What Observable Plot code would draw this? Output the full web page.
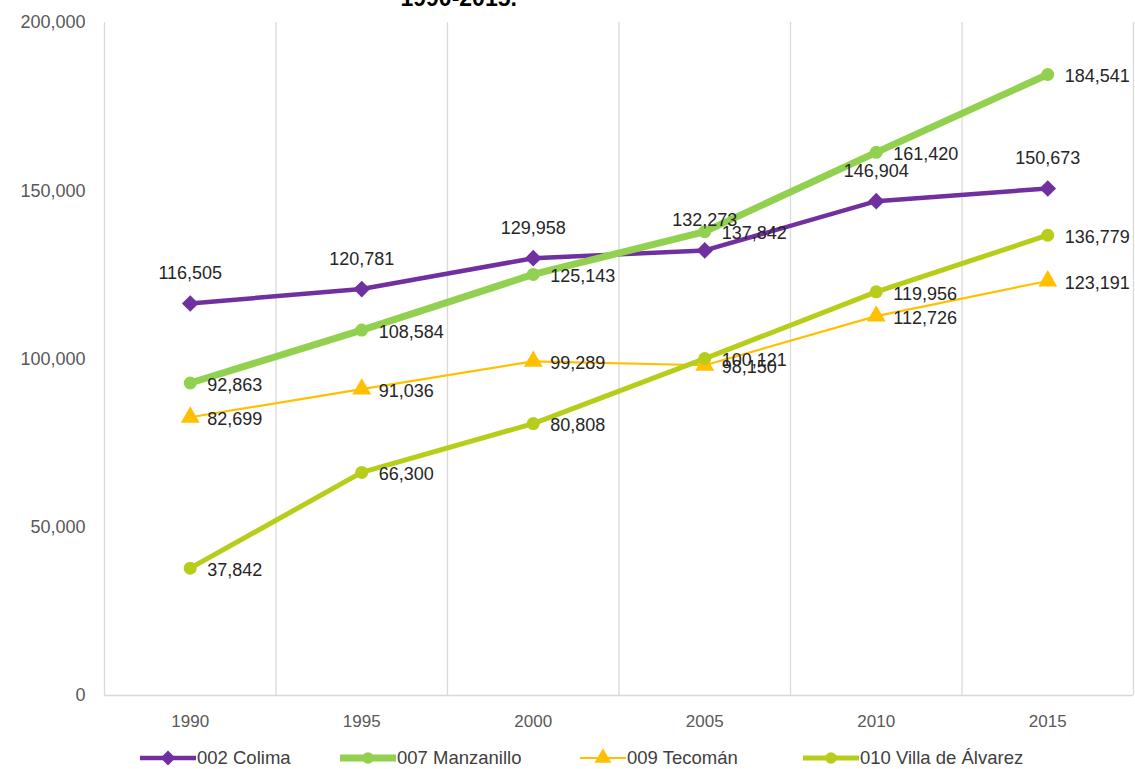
<!DOCTYPE html>
<html>
<head>
<meta charset="utf-8">
<script src="https://cdn.jsdelivr.net/npm/d3@7"></script>
<script src="https://cdn.jsdelivr.net/npm/@observablehq/plot@0.6"></script>
<style>
  html, body { margin: 0; padding: 0; background: #fff; overflow: hidden; }
  body { width: 1135px; height: 769px; position: relative; font-family: "Liberation Sans", Arial, sans-serif; }
  #legend { position: absolute; top: 745px; left: 0; width: 1135px; height: 26px; }
  .item { position: absolute; display: flex; align-items: center; font-size: 18.5px; color: #404040; }
  .item svg { display: block; margin-right: 1px; }
</style>
</head>
<body>
<div id="chart"></div>
<div id="legend"></div>
<script>
const years = [1990, 1995, 2000, 2005, 2010, 2015];
const seriesNames = ["002 Colima", "007 Manzanillo", "009 Tecomán", "010 Villa de Álvarez"];
const colima     = [116505, 120781, 129958, 132273, 146904, 150673];
const manzanillo = [92863, 108584, 125143, 137842, 161420, 184541];
const tecoman    = [82699, 91036, 99289, 98150, 112726, 123191];
const villa      = [37842, 66300, 80808, 100121, 119956, 136779];
const yTicks = [0, 50000, 100000, 150000, 200000];
const titleText = "1990-2015.";

const colors = ["#7030A0", "#92D050", "#FFC000", "#B8CC1A"];
const widths = [4.5, 7, 2.2, 5];
const symbols = ["diamond2", "circle", "triangle", "circle"];
const radii = [7.5, 6.5, 7, 6.5];
const labelPos = ["top", "right", "right", "right"];

const allValues = [colima, manzanillo, tecoman, villa];
const data = [];
allValues.forEach((vals, s) => {
  vals.forEach((v, i) => data.push({series: seriesNames[s], s, year: years[i], value: v}));
});

const half = (years[1] - years[0]) / 2;
const bounds = [years[0] - half, ...years.map(y => y + half)];
const fmt = d3.format(",");

const marks = [
  Plot.ruleX(bounds, {stroke: "#d9d9d9", strokeWidth: 1.3}),
  Plot.ruleY([0], {stroke: "#d9d9d9", strokeWidth: 1.3}),
  Plot.axisY({ticks: yTicks, tickFormat: fmt, tickSize: 0, tickPadding: 19, fontSize: 18, color: "#595959", label: null}),
  Plot.axisX({ticks: years, tickFormat: d => String(d), tickSize: 0, tickPadding: 19, fontSize: 17, color: "#595959", label: null}),
];
seriesNames.forEach((name, s) => {
  const d = data.filter(r => r.s === s);
  marks.push(Plot.line(d, {x: "year", y: "value", stroke: colors[s], strokeWidth: widths[s]}));
  marks.push(Plot.dot(d, {x: "year", y: "value", fill: colors[s], stroke: "none", symbol: symbols[s], r: radii[s]}));
});
seriesNames.forEach((name, s) => {
  const d = data.filter(r => r.s === s);
  if (labelPos[s] === "top") {
    marks.push(Plot.text(d, {x: "year", y: "value", text: r => fmt(r.value), dy: -30, fontSize: 18, fill: "#262626", textAnchor: "middle"}));
  } else {
    marks.push(Plot.text(d, {x: "year", y: "value", text: r => fmt(r.value), dx: 17, dy: 2, fontSize: 18, fill: "#262626", textAnchor: "start"}));
  }
});
marks.push(Plot.text([titleText], {frameAnchor: "top-left", dx: 296, dy: -17, fontSize: 23, fontWeight: "bold", fill: "#000", textAnchor: "start", lineAnchor: "bottom"}));

const chart = Plot.plot({
  width: 1135,
  height: 740,
  marginLeft: 104,
  marginRight: 2,
  marginTop: 22,
  marginBottom: 45,
  style: {fontFamily: "'Liberation Sans', Arial, sans-serif", background: "#fff", overflow: "hidden"},
  x: {type: "linear", domain: [bounds[0], bounds[bounds.length - 1]], axis: null},
  y: {domain: [0, 200000], axis: null},
  marks
});
document.getElementById("chart").appendChild(chart);

// Legend
const legend = document.getElementById("legend");
const legendX = [140, 340, 580, 803];
seriesNames.forEach((name, s) => {
  const item = document.createElement("div");
  item.className = "item";
  item.style.left = legendX[s] + "px";
  const w = s === 2 ? 46 : 56;
  const sw = d3.create("svg").attr("width", w).attr("height", 26);
  sw.append("line").attr("x1", 0).attr("x2", w).attr("y1", 13).attr("y2", 13)
    .attr("stroke", colors[s]).attr("stroke-width", widths[s]);
  const sym = {diamond2: d3.symbolDiamond2, circle: d3.symbolCircle, triangle: d3.symbolTriangle}[symbols[s]];
  sw.append("path").attr("transform", `translate(${w / 2},13)`)
    .attr("d", d3.symbol(sym, Math.PI * radii[s] * radii[s] * 0.8)())
    .attr("fill", colors[s]);
  item.appendChild(sw.node());
  const t = document.createElement("span");
  t.textContent = name;
  item.appendChild(t);
  legend.appendChild(item);
});
</script>
</body>
</html>
